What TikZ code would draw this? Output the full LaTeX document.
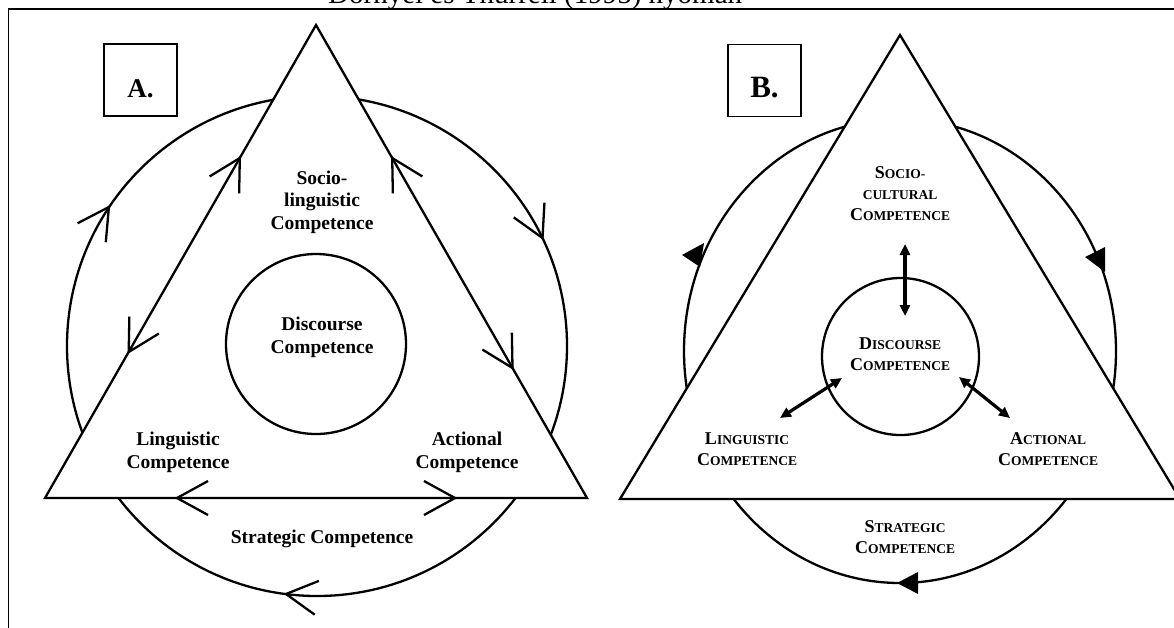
\documentclass[tikz,border=0pt]{standalone}
\usepackage{fontspec}
\setmainfont{Liberation Serif}
\usetikzlibrary{arrows.meta}
% small-caps words built from a large initial and smaller capitals
\newcommand\smcap[2]{{\fontsize{18}{21}\selectfont #1}{\fontsize{13.5}{21}\selectfont #2}}
\newcommand\smrest[1]{{\fontsize{13.5}{21}\selectfont #1}}
\begin{document}
\begin{tikzpicture}[x=1pt, y=-1pt,
  rule/.style={line width=1.7pt},
  outline/.style={line width=2.3pt},
  whitetri/.style={line width=2.3pt, fill=white, line join=miter},
  labelbox/.style={draw, line width=1.6pt, minimum width=73pt, minimum height=72pt, inner sep=0pt},
  boxtext/.style={anchor=base, inner sep=0pt},
  % multi-line labels are anchored at the baseline of their last line
  textA/.style={anchor=base, align=center, inner sep=0pt, font=\fontsize{19.5}{22.5}\selectfont\bfseries},
  textB/.style={anchor=base, align=center, inner sep=0pt, font=\fontsize{18}{21}\selectfont\bfseries},
  openhead/.pic={\draw[line width=2.3pt, line join=miter, line cap=butt] (-31,-17) -- (0,0) -- (-31,17);},
  solidhead/.style={fill=black, draw=none},
  twoway/.style={line width=3.2pt, {Triangle[length=11pt,width=10pt]}-{Triangle[length=11pt,width=10pt]}},
]
\useasboundingbox (0,0) rectangle (1174,627);
\clip (0,0) rectangle (1174,627);

% heading, cut by the top edge
\node[anchor=base west, inner sep=0pt, font=\fontsize{29}{29}\selectfont] (heading) at (328,3.5) {Dörnyei és Thurrell (1995) nyomán};

% cell frame
\draw[rule, line join=miter] (8.5,640) -- (8.5,9) -- (1180,9);

% ---------------- model A ----------------
\coordinate (cA) at (317,346);
\draw[outline] (cA) circle [radius=250];
\coordinate (topA) at (316,25);
\coordinate (leftA) at (45,498);
\coordinate (rightA) at (587,498);
\draw[whitetri] (topA) -- (leftA) -- (rightA) -- cycle;

% open arrowheads on the triangle sides and base
\pic[rotate=60.2] at (239.8,158) {openhead};
\pic[rotate=240.2] at (128.7,352) {openhead};
\pic[rotate=119.8] at (392.2,158) {openhead};
\pic[rotate=-60.2] at (512.5,368) {openhead};
\pic[rotate=180] at (177,498) {openhead};
\pic[rotate=0] at (455,498) {openhead};
% open arrowheads on the outer circle (clockwise)
\pic[rotate=56.2] at (108.9,207) {openhead};
\pic[rotate=-64.4] at (542.5,238) {openhead};
\pic[rotate=173] at (286,594) {openhead};

\draw[outline] (316,344) circle [radius=90];

\node[labelbox] (boxA) at (140.5,80) {};
\node[boxtext, font=\fontsize{27}{27}\selectfont\bfseries] (tagA) at (140.5,97) {A.};

\node[textA] (socioA) at (322,229) {Socio-\\linguistic\\Competence};
\node[textA] (discA) at (322,353) {Discourse\\Competence};
\node[textA] (lingA) at (178,468) {Linguistic\\Competence};
\node[textA] (actA) at (467,468) {Actional\\Competence};
\node[textA] (stratA) at (322,543) {Strategic Competence};

% ---------------- model B ----------------
\coordinate (cB) at (900,351);
\draw[outline] (cB) ellipse [x radius=216, y radius=232];
\coordinate (topB) at (900,35);
\coordinate (leftB) at (620,499);
\coordinate (rightB) at (1180,499);
\draw[whitetri] (topB) -- (leftB) -- (rightB) -- cycle;

% solid arrowheads on the outer ellipse
\fill[solidhead] (682,255) -- (704,243) -- (700,267) -- cycle;
\fill[solidhead] (1085,257) -- (1105,247) -- (1105,272) -- cycle;
\fill[solidhead] (897,583) -- (918,572) -- (918,594) -- cycle;

\draw[outline] (900.5,356.5) circle [radius=78.5];

% two-way links between discourse competence and the other three
\coordinate (scTop) at (905,244);
\coordinate (scBot) at (905,316);
\coordinate (lnIn) at (842,378);
\coordinate (lnOut) at (780,418);
\coordinate (acIn) at (959,377);
\coordinate (acOut) at (1010,418);
\draw[twoway] (scTop) -- (scBot);
\draw[twoway] (lnIn) -- (lnOut);
\draw[twoway] (acIn) -- (acOut);

\node[labelbox] (boxB) at (764.5,80.5) {};
\node[boxtext, font=\fontsize{31}{31}\selectfont\bfseries] (tagB) at (764.5,97) {B.};

\node[textB] (socioB) at (900,220) {\smcap{S}{OCIO-}\\\smrest{CULTURAL}\\\smcap{C}{OMPETENCE}};
\node[textB] (discB) at (900,370) {\smcap{D}{ISCOURSE}\\\smcap{C}{OMPETENCE}};
\node[textB] (lingB) at (747,465) {\smcap{L}{INGUISTIC}\\\smcap{C}{OMPETENCE}};
\node[textB] (actB) at (1048,465) {\smcap{A}{CTIONAL}\\\smcap{C}{OMPETENCE}};
\node[textB] (stratB) at (905,553) {\smcap{S}{TRATEGIC}\\\smcap{C}{OMPETENCE}};
\end{tikzpicture}
\end{document}
